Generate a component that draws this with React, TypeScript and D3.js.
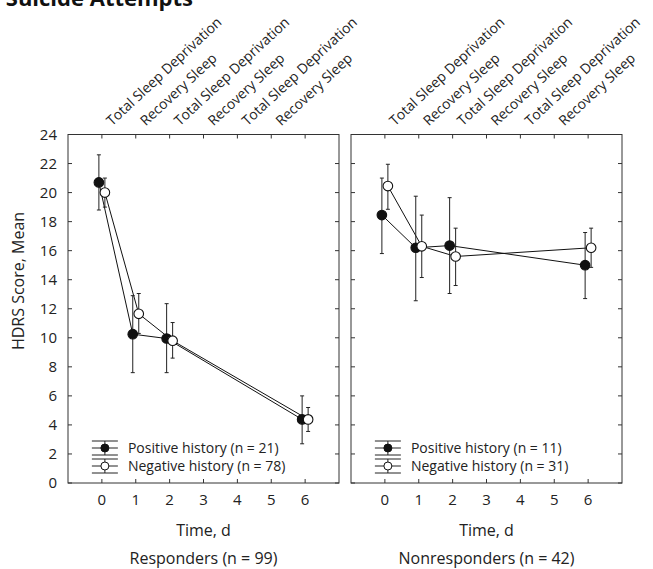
import React from 'react';
import * as d3 from 'd3';

// Study days and the period labels along the top axis
const days = [0, 1, 2, 6];
const topLabels = [
    'Total Sleep Deprivation',
    'Recovery Sleep',
    'Total Sleep Deprivation',
    'Recovery Sleep',
    'Total Sleep Deprivation',
    'Recovery Sleep',
];
const xTicks = [0, 1, 2, 3, 4, 5, 6];
const yTicks = [0, 2, 4, 6, 8, 10, 12, 14, 16, 18, 20, 22, 24];

// Responders (n = 99)
const respPosMean = [20.7, 10.25, 9.95, 4.38];
const respPosLow = [18.8, 7.6, 7.6, 2.7];
const respPosHigh = [22.6, 12.9, 12.35, 6.0];
const respNegMean = [20.0, 11.65, 9.8, 4.38];
const respNegLow = [19.0, 10.3, 8.6, 3.55];
const respNegHigh = [21.0, 13.05, 11.05, 5.2];

// Nonresponders (n = 42)
const nonPosMean = [18.45, 16.2, 16.35, 15.0];
const nonPosLow = [15.8, 12.55, 13.05, 12.7];
const nonPosHigh = [21.0, 19.75, 19.65, 17.25];
const nonNegMean = [20.45, 16.3, 15.6, 16.2];
const nonNegLow = [18.85, 14.15, 13.6, 14.85];
const nonNegHigh = [21.95, 18.45, 17.55, 17.55];

const FONT = "'Open Sans', 'Noto Sans', sans-serif";

type Series = { mean: number[]; low: number[]; high: number[]; filled: boolean; label: string };

const top = 134.5;
const bottom = 483;
const y = d3.scaleLinear().domain([0, 24]).range([bottom, top]);

function Panel({ left, right, series, title, showY }: {
    left: number; right: number; series: Series[]; title: string; showY: boolean;
}) {
    const x = d3.scaleLinear().domain([-1, 7]).range([left, right]);
    const line = d3.line<[number, number]>().x(d => d[0]).y(d => d[1]);
    const tick = 4;
    const legendX = x(0) + 3;

    return (
        <g>
            {/* frame */}
            <rect x={left} y={top} width={right - left} height={bottom - top}
                fill="none" stroke="#333" strokeWidth={1} />
            {xTicks.map(t => (
                <g key={'xt' + t}>
                    <line x1={x(t)} x2={x(t)} y1={bottom} y2={bottom - tick} stroke="#333" />
                    <line x1={x(t)} x2={x(t)} y1={top} y2={top + tick} stroke="#333" />
                    <text x={x(t)} y={505} textAnchor="middle" fontSize={15} fontFamily={FONT} fill="#222">{t}</text>
                </g>
            ))}
            {yTicks.map(t => (
                <g key={'yt' + t}>
                    <line x1={left} x2={left + tick} y1={y(t)} y2={y(t)} stroke="#333" />
                    <line x1={right} x2={right - tick} y1={y(t)} y2={y(t)} stroke="#333" />
                    {showY && (
                        <text x={left - 11} y={y(t)} dy="0.36em" textAnchor="end" fontSize={15}
                            fontFamily={FONT} fill="#222">{t}</text>
                    )}
                </g>
            ))}
            {topLabels.map((l, i) => (
                <text key={'tl' + i} transform={`translate(${x(i) + 10},${top - 8}) rotate(-43)`}
                    fontSize={14} fontFamily={FONT} fill="#222">{l}</text>
            ))}

            {/* connecting lines */}
            {series.map((s, si) => {
                const off = s.filled ? -3 : 3;
                const pts = days.map((d, i) => [x(d) + off, y(s.mean[i])] as [number, number]);
                return <path key={'ln' + si} d={line(pts) || ''} fill="none" stroke="#111" strokeWidth={1} />;
            })}
            {/* error bars */}
            {series.map((s, si) => {
                const off = s.filled ? -3 : 3;
                return days.map((d, i) => {
                    const cx = x(d) + off;
                    return (
                        <g key={'eb' + si + i} stroke="#222" strokeWidth={1}>
                            <line x1={cx} x2={cx} y1={y(s.low[i])} y2={y(s.high[i])} />
                            <line x1={cx - 2} x2={cx + 2} y1={y(s.low[i])} y2={y(s.low[i])} />
                            <line x1={cx - 2} x2={cx + 2} y1={y(s.high[i])} y2={y(s.high[i])} />
                        </g>
                    );
                });
            })}
            {/* markers */}
            {series.map((s, si) => {
                const off = s.filled ? -3 : 3;
                return days.map((d, i) => (
                    <circle key={'mk' + si + i} cx={x(d) + off} cy={y(s.mean[i])} r={4.8}
                        fill={s.filled ? '#111' : '#fff'} stroke="#111" strokeWidth={1.1} />
                ));
            })}

            {/* legend */}
            {series.map((s, si) => {
                const cy = 448 + si * 18;
                return (
                    <g key={'lg' + si}>
                        <g stroke="#222" strokeWidth={1}>
                            <line x1={legendX - 13} x2={legendX + 13} y1={cy} y2={cy} />
                            <line x1={legendX - 13} x2={legendX + 13} y1={cy - 7} y2={cy - 7} />
                            <line x1={legendX - 13} x2={legendX + 13} y1={cy + 7} y2={cy + 7} />
                            <line x1={legendX} x2={legendX} y1={cy - 7} y2={cy + 7} />
                        </g>
                        <circle cx={legendX} cy={cy} r={4} fill={s.filled ? '#111' : '#fff'} stroke="#111" />
                        <text x={legendX + 23} y={cy} dy="0.36em" fontSize={14} fontFamily={FONT} fill="#222">{s.label}</text>
                    </g>
                );
            })}

            <text x={(left + right) / 2} y={536} textAnchor="middle" fontSize={16} fontFamily={FONT} fill="#222">Time, d</text>
            <text x={(left + right) / 2} y={564} textAnchor="middle" fontSize={16} fontFamily={FONT} fill="#222">{title}</text>
        </g>
    );
}

export default function App() {
    const responders: Series[] = [
        { mean: respPosMean, low: respPosLow, high: respPosHigh, filled: true, label: 'Positive history (n = 21)' },
        { mean: respNegMean, low: respNegLow, high: respNegHigh, filled: false, label: 'Negative history (n = 78)' },
    ];
    const nonresponders: Series[] = [
        { mean: nonPosMean, low: nonPosLow, high: nonPosHigh, filled: true, label: 'Positive history (n = 11)' },
        { mean: nonNegMean, low: nonNegLow, high: nonNegHigh, filled: false, label: 'Negative history (n = 31)' },
    ];

    return (
        <svg width={653} height={569} style={{ position: 'absolute', left: 0, top: 0, background: '#fff' }}>
            <text x={193} y={6} textAnchor="end" fontSize={22} fontWeight="bold" fontFamily={FONT} fill="#111">
                History of Suicide Attempts
            </text>
            <text transform={`translate(24,281) rotate(-90)`} textAnchor="middle" fontSize={16}
                fontFamily={FONT} fill="#222">HDRS Score, Mean</text>
            <Panel left={68} right={339} series={responders} title="Responders (n = 99)" showY={true} />
            <Panel left={351} right={622} series={nonresponders} title="Nonresponders (n = 42)" showY={false} />
        </svg>
    );
}
